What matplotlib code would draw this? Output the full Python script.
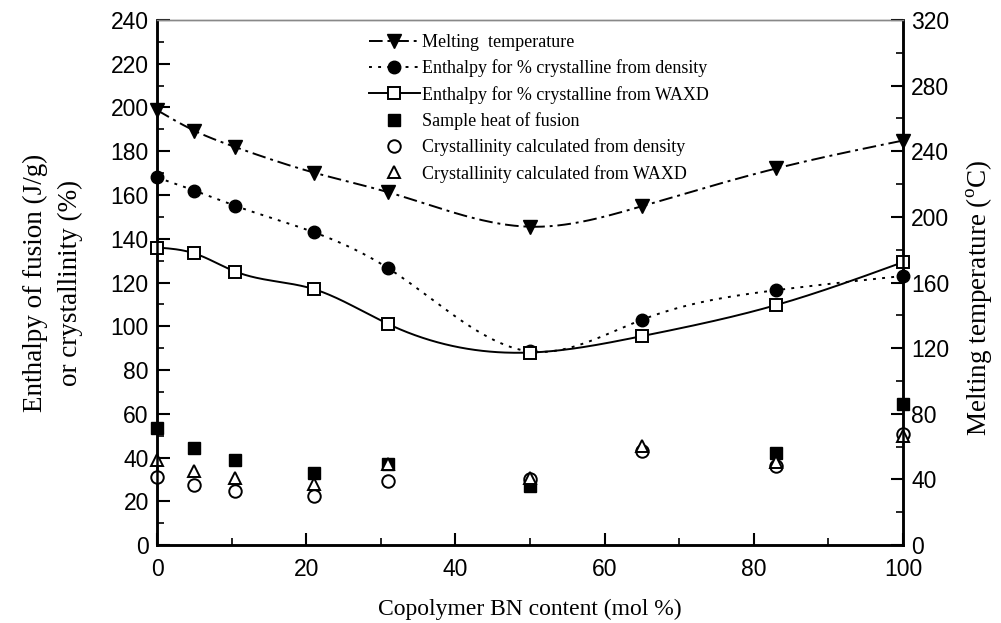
import numpy as np
import matplotlib.pyplot as plt
from matplotlib.ticker import MultipleLocator

plt.rcParams['font.family'] = ['Liberation Serif', 'DejaVu Serif']
plt.rcParams['mathtext.fontset'] = 'custom'
plt.rcParams['mathtext.rm'] = 'Liberation Serif'

# copolymer BN content (mol %)
bn = [0, 5, 10.5, 21, 31, 50, 65, 83, 100]

# melting temperature (deg C, right axis)
tm = [265, 252.5, 242.5, 227, 215, 194, 206.5, 229.5, 246.5]

# enthalpy for 100% crystalline (J/g)
h_density = [168, 162, 155, 143, 126.5, 88.5, 103, 116.5, 123]
h_waxd = [136, 133.3, 125, 117, 101, 88, 95.5, 109.7, 129.3]

# measured values
heat_fusion = [53.5, 44.5, 39, 33, 37.3, 27, None, 42, 64.5]
cryst_density = [31.2, 27.4, 24.8, 22.4, 29.3, 30, 43, 36.3, 51]
cryst_waxd = [38.9, 34, 30.5, 28, 37, 30.8, 45.4, 38.1, 50]


def spline(x, y, n=400):
    # natural cubic spline through the points, for a smooth curve
    x = np.asarray(x, float)
    y = np.asarray(y, float)
    k = len(x)
    h = np.diff(x)
    A = np.zeros((k, k))
    b = np.zeros(k)
    A[0, 0] = A[-1, -1] = 1
    for i in range(1, k - 1):
        A[i, i - 1] = h[i - 1]
        A[i, i] = 2 * (h[i - 1] + h[i])
        A[i, i + 1] = h[i]
        b[i] = 6 * ((y[i + 1] - y[i]) / h[i] - (y[i] - y[i - 1]) / h[i - 1])
    m = np.linalg.solve(A, b)
    xs = np.linspace(x[0], x[-1], n)
    j = np.clip(np.searchsorted(x, xs) - 1, 0, k - 2)
    t = xs - x[j]
    hj = h[j]
    ys = (m[j] * (x[j + 1] - xs) ** 3 + m[j + 1] * t ** 3) / (6 * hj) \
        + (y[j] / hj - m[j] * hj / 6) * (x[j + 1] - xs) \
        + (y[j + 1] / hj - m[j + 1] * hj / 6) * t
    return xs, ys


fig = plt.figure(figsize=(10.01, 6.23), dpi=100)
ax = fig.add_axes([0.157, 0.125, 0.745, 0.843])
ax2 = ax.twinx()

dashdot = (0, (7, 2.5, 1.5, 2.5))
dotted = (0, (1.5, 3.2))

# smooth curves on the left axis
xs, ys = spline(bn, h_density)
ax.plot(xs, ys, color='black', lw=1.4, ls=dotted)
ax.plot(bn, h_density, 'o', color='black', ms=9, clip_on=False, zorder=5)
xs, ys = spline(bn, h_waxd)
ax.plot(xs, ys, color='black', lw=1.4, ls='-')
ax.plot(bn, h_waxd, 's', color='black', mfc='white', ms=8, mew=1.4,
        clip_on=False, zorder=5)

# scattered measured points
hx = [x for x, v in zip(bn, heat_fusion) if v is not None]
hv = [v for v in heat_fusion if v is not None]
ax.plot(hx, hv, 's', color='black', ms=8, clip_on=False, zorder=5)
ax.plot(bn, cryst_density, 'o', color='black', mfc='white', ms=9, mew=1.4,
        clip_on=False, zorder=5)
ax.plot(bn, cryst_waxd, '^', color='black', mfc='white', ms=9, mew=1.4,
        clip_on=False, zorder=5)

# melting temperature on the right axis
xs, ys = spline(bn, tm)
ax2.plot(xs, ys, color='black', lw=1.4, ls=dashdot)
ax2.plot(bn, tm, 'v', color='black', ms=10, clip_on=False, zorder=5)

ax.set_xlim(0, 100)
ax.set_ylim(0, 240)
ax2.set_ylim(0, 320)
ax.xaxis.set_major_locator(MultipleLocator(20))
ax.xaxis.set_minor_locator(MultipleLocator(10))
ax.yaxis.set_major_locator(MultipleLocator(20))
ax.yaxis.set_minor_locator(MultipleLocator(10))
ax2.yaxis.set_major_locator(MultipleLocator(40))
ax2.yaxis.set_minor_locator(MultipleLocator(20))

for a in (ax, ax2):
    a.tick_params(which='major', direction='in', length=9, width=1.5,
                  labelsize=16.5, pad=6)
    a.tick_params(which='minor', direction='in', length=5, width=1.2)
    for lab in a.get_xticklabels() + a.get_yticklabels():
        lab.set_family('Liberation Sans')
    for s in ('left', 'right', 'bottom'):
        a.spines[s].set_linewidth(1.8)
    a.spines['top'].set_linewidth(1.0)
    a.spines['top'].set_color('#888888')
ax.tick_params(axis='x', top=False, pad=9)
ax.tick_params(axis='y', right=False)

ax.set_xlabel('Copolymer BN content (mol %)', fontsize=17, labelpad=13)
ax.set_ylabel('Enthalpy of fusion (J/g)\nor crystallinity (%)', fontsize=19.5,
              labelpad=20, linespacing=1.5)
ax2.set_ylabel('Melting temperature ($^{\\mathrm{o}}$C)', fontsize=19.5)
ax2.yaxis.set_label_coords(1.082, 0.47)

# legend entries
handles = [
    plt.Line2D([], [], color='black', lw=1.4, ls=dashdot, marker='v', ms=10),
    plt.Line2D([], [], color='black', lw=1.4, ls=dotted, marker='o', ms=9),
    plt.Line2D([], [], color='black', lw=1.4, ls='-', marker='s', mfc='white',
               ms=8, mew=1.4),
    plt.Line2D([], [], color='black', ls='none', marker='s', ms=8),
    plt.Line2D([], [], color='black', ls='none', marker='o', mfc='white', ms=9,
               mew=1.4),
    plt.Line2D([], [], color='black', ls='none', marker='^', mfc='white', ms=9,
               mew=1.4),
]
labels = [
    'Melting  temperature',
    'Enthalpy for % crystalline from density',
    'Enthalpy for % crystalline from WAXD',
    'Sample heat of fusion',
    'Crystallinity calculated from density',
    'Crystallinity calculated from WAXD',
]
ax2.legend(handles, labels, loc='upper left',
           bbox_to_anchor=(369 / 1001, 1 - 34 / 623),
           bbox_transform=fig.transFigure, frameon=False, fontsize=13,
           handlelength=2.8, handletextpad=0.15, labelspacing=0.47,
           borderpad=0, borderaxespad=0)

fig.savefig('out.png', dpi=100)
